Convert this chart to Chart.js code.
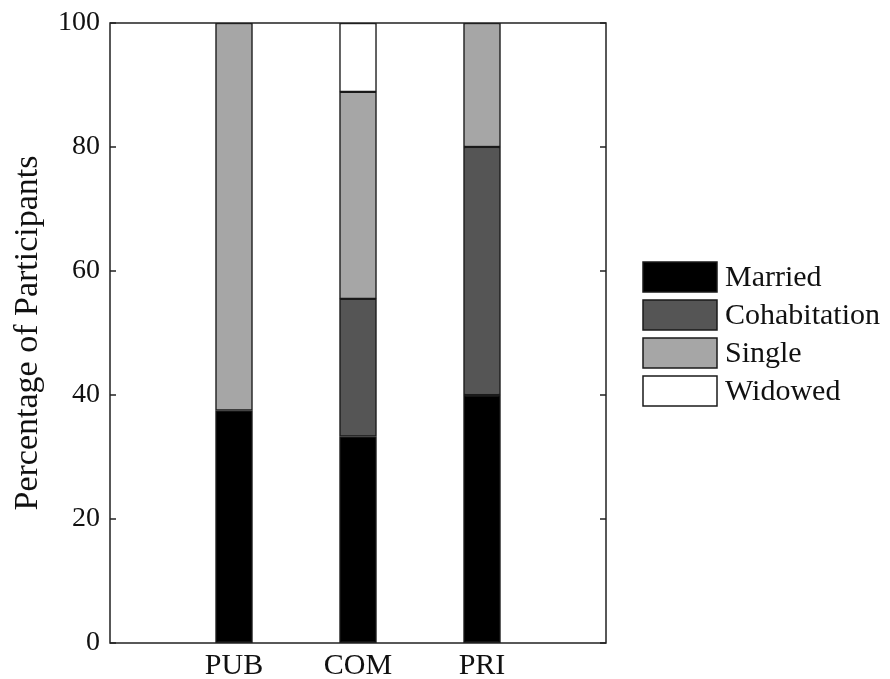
<!DOCTYPE html>
<html>
<head>
<meta charset="utf-8">
<script src="https://cdn.jsdelivr.net/npm/chart.js@4"></script>
<style>
html,body{margin:0;padding:0;background:#fff;}
#wrap{width:890px;height:679px;}
</style>
</head>
<body>
<div id="wrap"><canvas id="c" width="890" height="679"></canvas></div>
<script>
const categories = ['', 'PUB', 'COM', 'PRI', ''];
const married      = [null, 37.5, 33.3, 40.0, null];
const cohabitation = [null, 0,    22.2, 40.0, null];
const single       = [null, 62.5, 33.4, 20.0, null];
const widowed      = [null, 0,    11.1, 0,    null];
const yTicks = [0, 20, 40, 60, 80, 100];

const serif = "'Liberation Serif', 'Times New Roman', serif";

const frame = {
  id: 'frame',
  afterDatasetsDraw(chart) {
    const {ctx, chartArea: a, scales: {y}} = chart;
    ctx.save();
    ctx.strokeStyle = '#222';
    ctx.lineWidth = 1.5;
    ctx.strokeRect(a.left, a.top, a.right - a.left, a.bottom - a.top);
    ctx.beginPath();
    yTicks.forEach(v => {
      const p = y.getPixelForValue(v);
      ctx.moveTo(a.left, p); ctx.lineTo(a.left + 6, p);
      ctx.moveTo(a.right, p); ctx.lineTo(a.right - 6, p);
    });
    ctx.stroke();
    ctx.restore();
  }
};

const sideLegend = {
  id: 'sideLegend',
  afterDraw(chart) {
    const {ctx, chartArea: a} = chart;
    const ds = chart.data.datasets;
    const boxW = 74, boxH = 30, pitch = 38;
    const total = ds.length * pitch - (pitch - boxH);
    const x0 = a.right + 37;
    const y0 = (a.top + a.bottom) / 2 + 1 - total / 2;
    ctx.save();
    ctx.font = "30px " + serif;
    ctx.textBaseline = 'middle';
    ctx.textAlign = 'left';
    ds.forEach((d, i) => {
      const y = y0 + i * pitch;
      ctx.fillStyle = d.backgroundColor;
      ctx.fillRect(x0, y, boxW, boxH);
      ctx.strokeStyle = '#1a1a1a';
      ctx.lineWidth = 1.5;
      ctx.strokeRect(x0, y, boxW, boxH);
      ctx.fillStyle = '#111';
      ctx.fillText(d.label, x0 + boxW + 8, y + boxH / 2 + 1);
    });
    ctx.restore();
  }
};

const mk = (label, data, color) => ({
  label, data, backgroundColor: color, borderColor: '#1a1a1a',
  borderWidth: 1.5, borderSkipped: false, barThickness: 37
});

const noPad = (s) => { s.paddingTop = 0; s.paddingBottom = 0; s.paddingLeft = 0; s.paddingRight = 0; };

new Chart(document.getElementById('c'), {
  type: 'bar',
  data: {
    labels: categories,
    datasets: [
      mk('Married', married, '#000000'),
      mk('Cohabitation', cohabitation, '#555555'),
      mk('Single', single, '#a6a6a6'),
      mk('Widowed', widowed, '#ffffff')
    ]
  },
  options: {
    responsive: false,
    animation: false,
    layout: { padding: { top: 23, left: 0, right: 284, bottom: 0 } },
    plugins: {
      tooltip: { enabled: false },
      legend: { display: false }
    },
    scales: {
      x: {
        stacked: true,
        offset: false,
        grid: { display: false, drawTicks: false },
        border: { display: false },
        ticks: { color: '#111', font: { family: serif, size: 30 }, padding: 5, autoSkip: false, maxRotation: 0 },
        afterFit(s) { s.height = 36; noPad(s); }
      },
      y: {
        stacked: true,
        min: 0, max: 100,
        afterBuildTicks(s) { s.ticks = yTicks.map(v => ({value: v})); },
        grid: { display: false, drawTicks: false },
        border: { display: false },
        ticks: { color: '#111', font: { family: serif, size: 28 }, padding: 10 },
        title: {
          display: true, text: 'Percentage of Participants',
          color: '#111', font: { family: serif, size: 34 }, padding: { top: 8, bottom: 0 }
        },
        afterFit(s) { s.width = 110; noPad(s); }
      }
    }
  },
  plugins: [frame, sideLegend]
});
</script>
</body>
</html>
